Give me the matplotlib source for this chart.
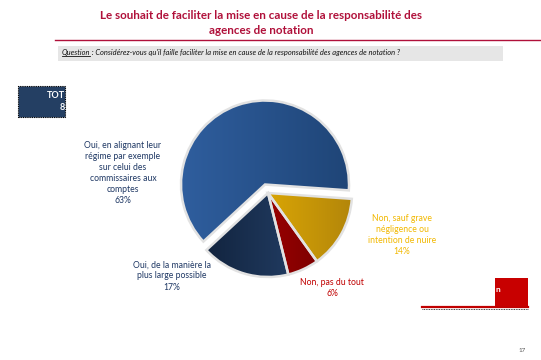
import numpy as np
import matplotlib.pyplot as plt
from matplotlib.patches import Rectangle, Wedge
from matplotlib.colors import LinearSegmentedColormap

plt.rcParams['font.family'] = ['Lato', 'DejaVu Sans']

# ---- data ----
title = "Le souhait de faciliter la mise en cause de la responsabilité des\nagences de notation"
question = " : Considérez-vous qu'il faille faciliter la mise en cause de la responsabilité des agences de notation ?"
categories = ["Non, sauf grave\nnégligence ou\nintention de nuire",
              "Non, pas du tout",
              "Oui, de la manière la\nplus large possible",
              "Oui, en alignant leur\nrégime par exemple\nsur celui des\ncommissaires aux\ncomptes"]
values = [14, 6, 17, 63]

# gradient colours (left -> right) and label colours
grad_colors = [('#FFC400', '#B3860A'), ('#C80000', '#6A0000'),
               ('#0E1E36', '#2B4B78'), ('#2F5E9E', '#1F4577')]
label_colors = ['#F2B800', '#C00000', '#1F3864', '#1F3864']
label_pos = [(402, 235), (332, 288), (172, 276), (123, 173)]   # pixel coords (top-left origin)

W, H = 541, 360
fig = plt.figure(figsize=(W / 100, H / 100), dpi=100)
ax = fig.add_axes([0, 0, 1, 1])


def Y(y):
    return H - y


# ---- pie ----
wedges, _ = ax.pie(values, colors=[c[0] for c in grad_colors], startangle=-4,
                   counterclock=False, center=(268, Y(193)), radius=84,
                   explode=[0, 0, 0, 9], frame=True,
                   wedgeprops=dict(edgecolor='none', linewidth=0))
for w, (c1, c2) in zip(wedges, grad_colors):
    cmap = LinearSegmentedColormap.from_list('g', [c1, c2])
    cx, cy = w.center
    r = w.r
    grad = np.linspace(0, 1, 256).reshape(1, -1)
    im = ax.imshow(grad, cmap=cmap, extent=[cx - r, cx + r, cy - r, cy + r],
                   aspect='auto', zorder=2, interpolation='bilinear')
    im.set_clip_path(w)
    ax.add_patch(Wedge(w.center, w.r, w.theta1, w.theta2, facecolor='none',
                       edgecolor='#e2e2e2', linewidth=1.8, zorder=3))

for cat, v, col, (x, y) in zip(categories, values, label_colors, label_pos):
    ax.text(x, Y(y), f"{cat}\n{v}%", ha='center', va='center', fontsize=6.2,
            color=col, linespacing=1.3, zorder=5)

# ---- title and header ----
ax.text(261, Y(23), title, ha='center', va='center', fontsize=8.4,
        color='#B0103A', linespacing=1.45, fontweight='bold')
ax.plot([55, W], [Y(40), Y(40)], color='#B0103A', linewidth=1.0)
ax.add_patch(Rectangle((58, Y(61)), 445, 15, facecolor='#E6E6E6',
                       edgecolor='none'))
tq = ax.text(62, Y(53), "Question", ha='left', va='center', fontsize=5.4,
             style='italic', color='#111111')
fig.canvas.draw()
bb = tq.get_window_extent().transformed(ax.transData.inverted())
ax.plot([bb.x0, bb.x1], [bb.y0 - 0.3, bb.y0 - 0.3], color='#111111',
        linewidth=0.6)
ax.text(bb.x1, Y(53), question, ha='left', va='center', fontsize=5.4,
        style='italic', color='#111111')

# ---- left box (partially hidden) ----
box = Rectangle((18, Y(117)), 47, 31, facecolor='#243F63',
                edgecolor='black', linestyle=(0, (1, 1)), linewidth=0.8)
ax.add_patch(box)
ax.text(47, Y(95), "TOT", ha='left', va='center', fontsize=6.5,
        color='white', fontweight='bold')
ax.text(60, Y(108), "8", ha='left', va='center', fontsize=6.5,
        color='white', fontweight='bold')

# ---- right box (partially hidden) ----
ax.plot([422, 528], [Y(307), Y(307)], color='#C00000', linewidth=1.6)
ax.plot([422, 528], [Y(309), Y(309)], color='black', linewidth=0.6,
        linestyle=(0, (1, 1)))
ax.add_patch(Rectangle((495, Y(308)), 33, 30, facecolor='#C80000',
                       edgecolor='none'))
ax.text(496, Y(289), "n", ha='left', va='center', fontsize=6,
        color='white', fontweight='bold')

# ---- page number ----
ax.text(522, Y(350), "17", ha='center', va='center', fontsize=4.5,
        color='#555555')

ax.set_xlim(0, W)
ax.set_ylim(0, H)
ax.axis('off')
fig.savefig('out.png', dpi=100)
